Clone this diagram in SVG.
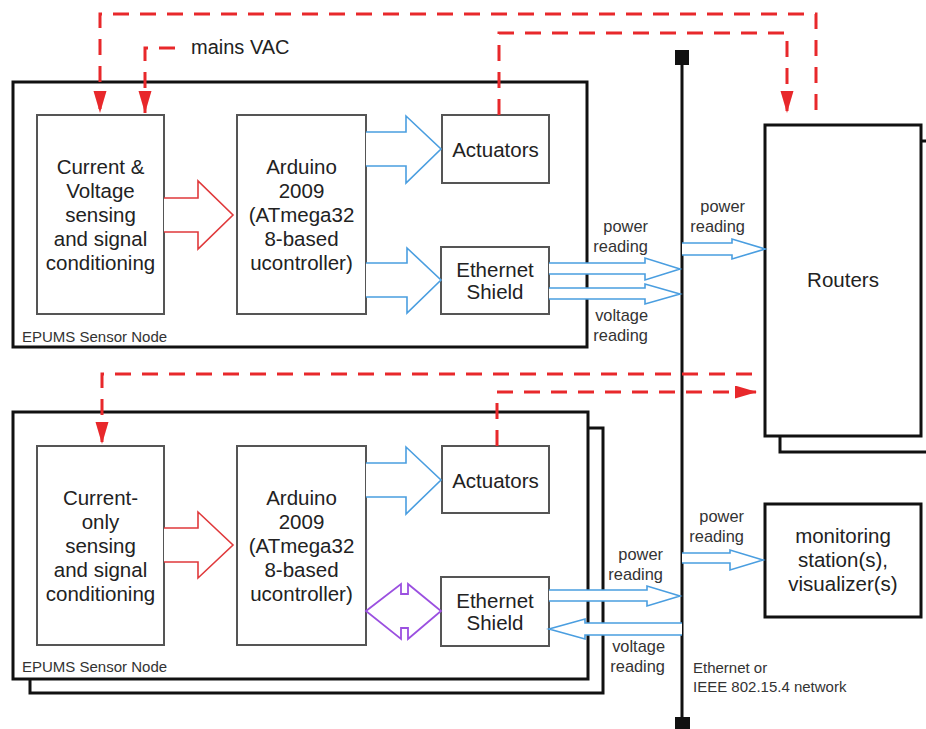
<svg xmlns="http://www.w3.org/2000/svg" width="926" height="729" viewBox="0 0 926 729">
<defs>
<style>
.outer{fill:#fff;stroke:#111;stroke-width:3}
.inner{fill:#fff;stroke:#555;stroke-width:2}
.t{font-family:"Liberation Sans",Arial,sans-serif;fill:#222;font-size:20.5px;text-anchor:middle}
.s{font-family:"Liberation Sans",Arial,sans-serif;fill:#333;font-size:16.4px;text-anchor:end}
.n{font-family:"Liberation Sans",Arial,sans-serif;fill:#333;font-size:15px}
.blue{fill:#fff;stroke:#4a9ee0;stroke-width:1.6}
.red{fill:#fff;stroke:#e0393b;stroke-width:1.6}
.purple{fill:#fff;stroke:#9b50e0;stroke-width:1.8}
.dash{fill:none;stroke:#e8282b;stroke-width:3;stroke-dasharray:16 11}
</style>
<marker id="ah" markerUnits="userSpaceOnUse" markerWidth="24" markerHeight="14" refX="22" refY="6.5" orient="auto"><path d="M0,0 L22,6.5 L0,13 Z" fill="#e8282b"/></marker>
</defs>
<rect width="926" height="729" fill="#fff"/>

<g id="node-top">
<rect class="outer" x="13" y="82" width="574" height="265"/>
<text class="n" x="22" y="342">EPUMS Sensor Node</text>
</g>
<g id="sense-top">
<rect class="inner" x="37" y="115" width="127" height="199"/>
<text class="t" x="100.5" y="174">Current &amp;</text>
<text class="t" x="100.5" y="198">Voltage</text>
<text class="t" x="100.5" y="222">sensing</text>
<text class="t" x="100.5" y="246">and signal</text>
<text class="t" x="100.5" y="270">conditioning</text>
</g>
<g id="arduino-top">
<rect class="inner" x="237" y="115" width="129" height="199"/>
<text class="t" x="301.5" y="174">Arduino</text>
<text class="t" x="301.5" y="198">2009</text>
<text class="t" x="301.5" y="222">(ATmega32</text>
<text class="t" x="301.5" y="246">8-based</text>
<text class="t" x="301.5" y="270">ucontroller)</text>
</g>
<g id="actuators-top">
<rect class="inner" x="442" y="115" width="107" height="68"/>
<text class="t" x="495.5" y="157">Actuators</text>
</g>
<g id="ethernet-top">
<rect class="inner" x="441" y="247" width="108" height="67"/>
<text class="t" x="495" y="277">Ethernet</text>
<text class="t" x="495" y="299">Shield</text>
</g>

<g id="node-bottom">
<rect class="outer" x="30" y="428" width="573" height="265"/>
<rect class="outer" x="13" y="412" width="575" height="267"/>
<text class="n" x="22" y="672">EPUMS Sensor Node</text>
</g>
<g id="sense-bottom">
<rect class="inner" x="37" y="446" width="127" height="199"/>
<text class="t" x="100.5" y="505">Current-</text>
<text class="t" x="100.5" y="529">only</text>
<text class="t" x="100.5" y="553">sensing</text>
<text class="t" x="100.5" y="577">and signal</text>
<text class="t" x="100.5" y="601">conditioning</text>
</g>
<g id="arduino-bottom">
<rect class="inner" x="237" y="446" width="129" height="199"/>
<text class="t" x="301.5" y="505">Arduino</text>
<text class="t" x="301.5" y="529">2009</text>
<text class="t" x="301.5" y="553">(ATmega32</text>
<text class="t" x="301.5" y="577">8-based</text>
<text class="t" x="301.5" y="601">ucontroller)</text>
</g>
<g id="actuators-bottom">
<rect class="inner" x="442" y="446" width="107" height="67"/>
<text class="t" x="495.5" y="488">Actuators</text>
</g>
<g id="ethernet-bottom">
<rect class="inner" x="441" y="577" width="108" height="69"/>
<text class="t" x="495" y="608">Ethernet</text>
<text class="t" x="495" y="630">Shield</text>
</g>

<g id="routers">
<rect class="outer" x="780" y="141" width="156" height="311"/>
<rect class="outer" x="765" y="125" width="156" height="311"/>
<text class="t" x="843" y="287">Routers</text>
</g>
<g id="monitoring">
<rect class="outer" x="765" y="504" width="156" height="113"/>
<text class="t" x="843" y="543">monitoring</text>
<text class="t" x="843" y="567">station(s),</text>
<text class="t" x="843" y="591">visualizer(s)</text>
</g>

<g id="network">
<line x1="682" y1="58" x2="682" y2="722" stroke="#111" stroke-width="3"/>
<rect x="675" y="50" width="14" height="15" fill="#111"/>
<rect x="675" y="717" width="15" height="14" fill="#111"/>
<text class="n" x="693" y="673">Ethernet or</text>
<text class="n" x="693" y="692">IEEE 802.15.4 network</text>
</g>

<g id="connectors">
<path class="dash" d="M816,110 V14 H100 V113" marker-end="url(#ah)"/>
<path class="dash" d="M499,115 V33 H787 V113" marker-end="url(#ah)"/>
<path class="dash" d="M175,48 H145 V113" marker-end="url(#ah)"/>
<path class="dash" d="M752,374 H102 V444" marker-end="url(#ah)"/>
<path class="dash" d="M497,446 V392 H757" marker-end="url(#ah)"/>
<text class="t" x="191" y="54" style="text-anchor:start;font-size:20px">mains VAC</text>

<path class="red" d="M164,198 L198,198 L198,181 L233,215 L198,249 L198,232 L164,232"/>
<path class="red" d="M164,528 L198,528 L198,512 L233,545 L198,578 L198,562 L164,562"/>
<path class="blue" d="M366,132 L406,132 L406,116 L441,149 L406,183 L406,166 L366,166"/>
<path class="blue" d="M366,263 L407,263 L407,248 L441,280 L407,313 L407,297 L366,297"/>
<path class="blue" d="M366,463 L406,463 L406,447 L441,480 L406,514 L406,497 L366,497"/>
<path class="purple" d="M366,611 L401,584 L401,594 L408,594 L408,584 L441,611 L408,639 L408,628 L401,628 L401,639 Z"/>

<path class="blue" d="M549,263 L645,263 L645,258 L680,269 L645,280 L645,274 L549,274"/>
<path class="blue" d="M549,288 L645,288 L645,284 L680,294 L645,304 L645,299 L549,299"/>
<path class="blue" d="M682,243 L732,243 L732,239 L765,249 L732,259 L732,255 L682,255"/>
<path class="blue" d="M549,590 L647,590 L647,586 L680,596 L647,606 L647,601 L549,601"/>
<path class="blue" d="M682,623 L585,623 L585,619 L549,629 L585,639 L585,635 L682,635"/>
<path class="blue" d="M682,553 L730,553 L730,550 L763,560 L730,570 L730,563 L682,563"/>

<text class="s" x="648" y="232">power</text>
<text class="s" x="648" y="252">reading</text>
<text class="s" x="648" y="321">voltage</text>
<text class="s" x="648" y="341">reading</text>
<text class="s" x="745" y="212">power</text>
<text class="s" x="745" y="232">reading</text>
<text class="s" x="663" y="560">power</text>
<text class="s" x="663" y="580">reading</text>
<text class="s" x="665" y="652">voltage</text>
<text class="s" x="665" y="672">reading</text>
<text class="s" x="744" y="522">power</text>
<text class="s" x="744" y="542">reading</text>
</g>
</svg>
